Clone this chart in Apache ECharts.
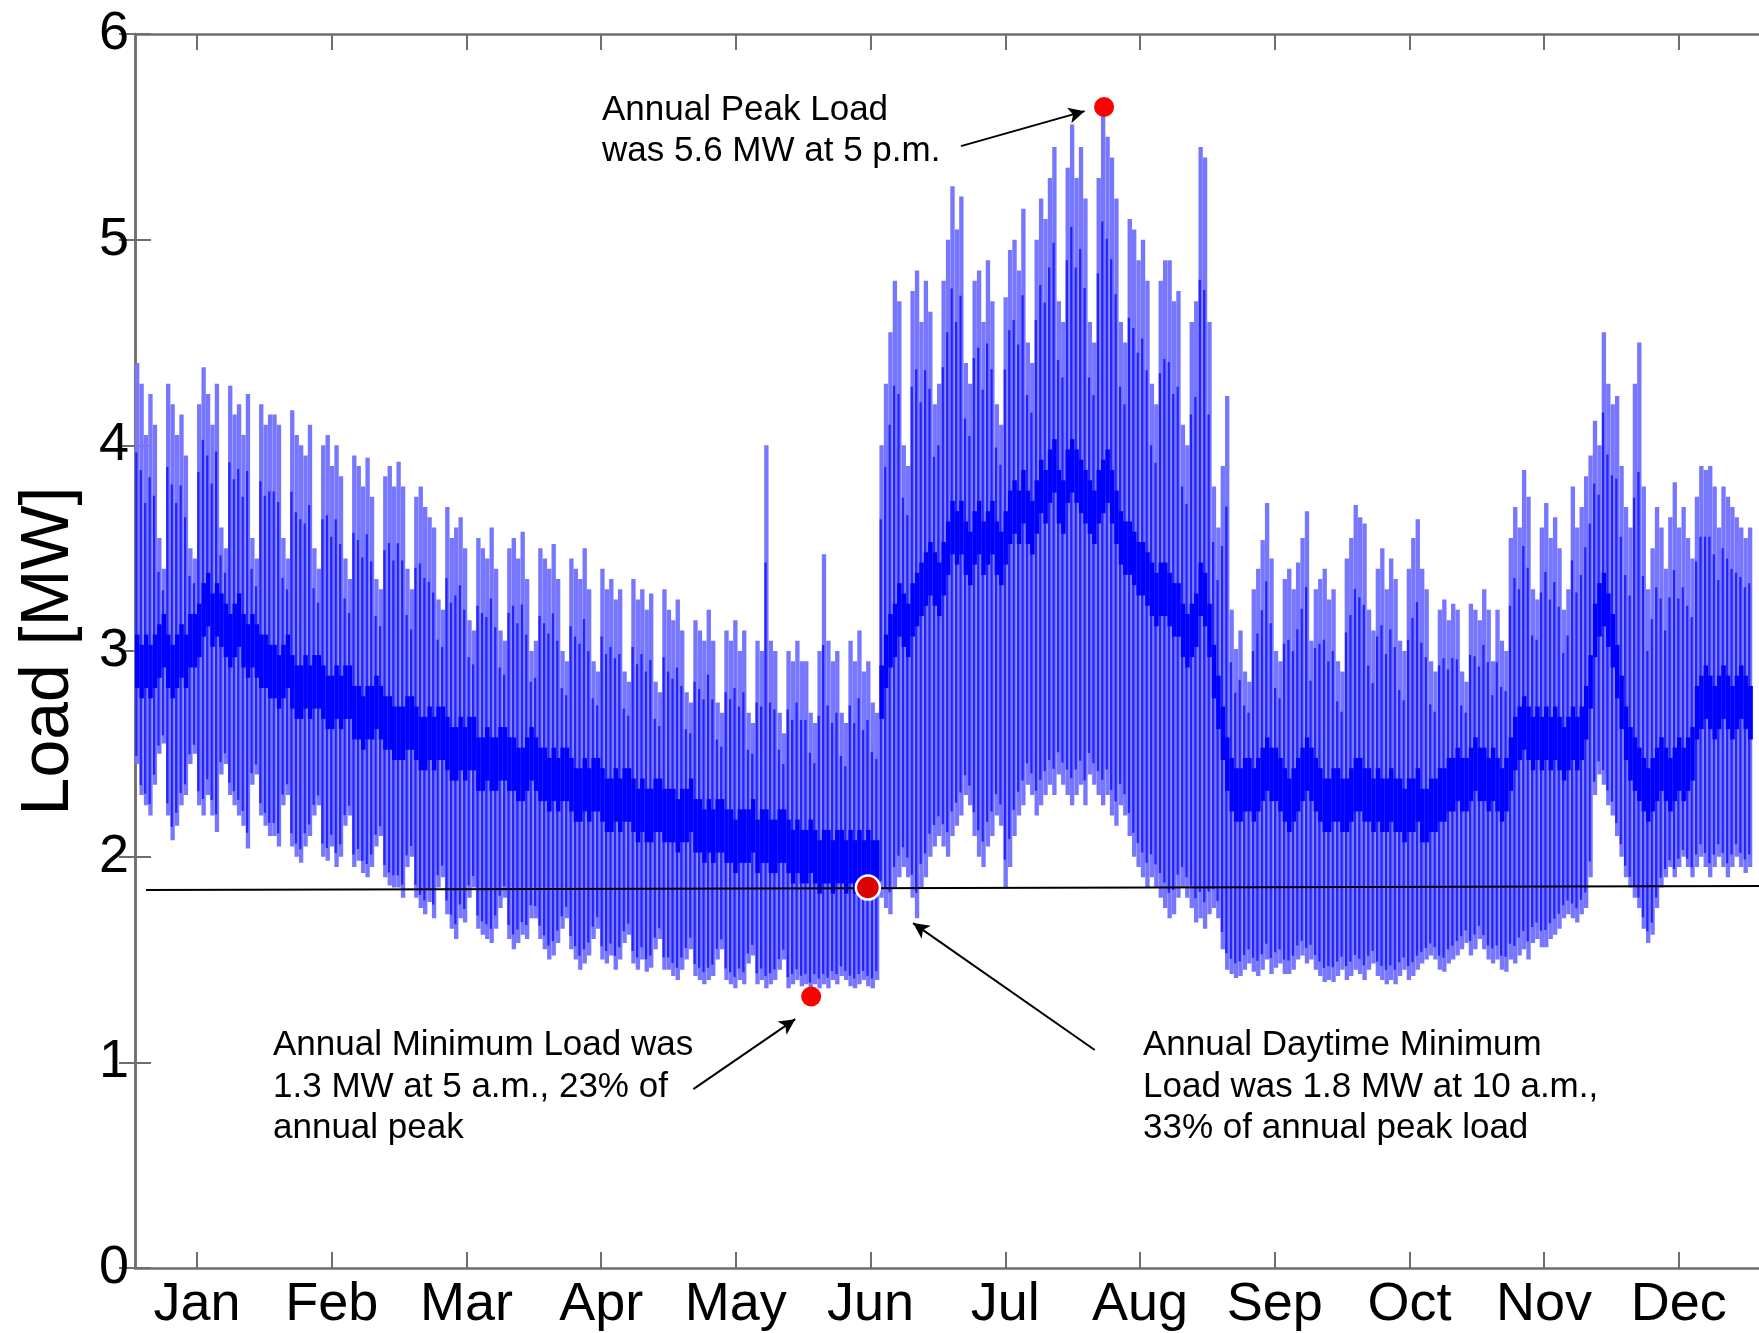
<!DOCTYPE html>
<html>
<head>
<meta charset="utf-8">
<title>Annual hourly load</title>
<script src="https://cdn.jsdelivr.net/npm/echarts@6/dist/echarts.min.js"></script>
<style>
  html, body { margin: 0; padding: 0; background: #fff; }
  #chart { width: 1759px; height: 1333px; }
</style>
</head>
<body>
<div id="chart"></div>
<script>
var monthNames = ['Jan', 'Feb', 'Mar', 'Apr', 'May', 'Jun', 'Jul', 'Aug', 'Sep', 'Oct', 'Nov', 'Dec'];
var monthTickDays = [14, 44.4, 74.8, 105.2, 135.6, 166, 196.4, 226.8, 257.2, 287.6, 318, 348.4];

// daily maximum load, MW (one row per month)
var dailyMax = [
  4.40,4.30,4.05,4.25,4.10,3.55,3.40,4.30,4.20,4.05,4.15,3.95,3.50,3.45,4.20,4.38,4.25,4.10,4.30,3.60,3.50,4.29,4.15,4.20,4.05,4.25,3.55,3.45,4.20,4.10,4.15,
  4.15,4.10,3.55,3.45,4.17,4.05,4.00,3.95,4.10,3.50,3.40,4.00,4.05,3.90,4.00,3.85,3.45,3.35,3.95,3.90,3.80,3.94,3.75,3.35,3.30,3.85,3.90,3.80,
  3.92,3.80,3.40,3.30,3.75,3.80,3.70,3.65,3.60,3.25,3.20,3.70,3.55,3.60,3.65,3.50,3.15,3.10,3.55,3.50,3.45,3.60,3.40,3.10,3.05,3.50,3.55,3.45,3.58,3.35,3.00,
  3.05,3.50,3.45,3.40,3.52,3.35,3.00,2.95,3.45,3.40,3.35,3.50,3.30,2.95,2.90,3.40,3.30,3.35,3.25,3.30,2.90,2.85,3.35,3.25,3.30,3.20,3.28,2.85,2.80,3.30,
  3.20,3.15,3.25,3.10,2.80,2.75,3.15,3.10,3.05,3.20,3.05,2.75,2.70,3.10,3.05,3.15,3.00,3.10,2.70,2.65,3.05,3.00,4.00,3.05,3.00,2.70,2.60,3.00,2.95,3.05,2.95,
  2.95,2.70,2.65,3.00,3.47,3.05,2.95,3.00,2.70,2.65,3.05,2.95,3.10,2.90,2.95,2.75,2.70,4.00,4.30,4.55,4.80,4.70,4.00,3.90,4.75,4.85,4.60,4.80,4.65,4.20,
  4.30,4.80,5.00,5.26,5.05,5.21,4.40,4.30,4.80,4.85,4.60,4.90,4.70,4.20,4.10,4.72,4.95,5.00,4.85,5.15,4.50,4.40,5.00,5.20,5.10,5.30,5.45,4.70,4.60,5.35,5.56,
  5.30,5.45,5.20,4.60,4.50,5.30,5.64,5.50,5.40,5.20,4.60,4.50,5.10,5.05,4.90,5.00,4.80,4.30,4.20,4.80,4.90,4.90,4.70,4.75,4.10,4.00,4.60,4.70,5.45,5.40,4.60,
  3.80,3.60,3.90,4.24,3.20,3.01,3.10,2.90,2.85,3.30,3.40,3.54,3.72,3.45,3.00,2.95,3.35,3.40,3.30,3.43,3.55,3.68,3.05,3.30,3.35,3.40,3.25,3.30,2.95,2.90,
  3.45,3.55,3.71,3.65,3.62,3.20,3.10,3.40,3.50,3.30,3.45,3.35,3.05,3.00,3.40,3.55,3.64,3.40,3.30,2.95,2.90,3.20,3.25,3.15,3.23,3.20,2.90,2.85,3.23,3.20,3.15,
  3.30,3.20,2.95,3.20,3.05,3.00,3.55,3.70,3.60,3.88,3.75,3.30,3.25,3.60,3.72,3.55,3.65,3.50,3.20,3.30,3.80,3.60,3.70,3.85,3.95,4.12,4.00,4.55,4.30,4.20,
  4.24,3.90,3.70,3.60,4.30,4.50,3.80,3.30,3.50,3.70,3.60,3.40,3.65,3.82,3.60,3.70,3.55,3.45,3.75,3.90,3.88,3.90,3.80,3.60,3.80,3.75,3.70,3.65,3.60,3.55,3.60
];

// daily minimum load, MW
var dailyMin = [
  2.45,2.30,2.25,2.20,2.35,2.50,2.55,2.20,2.08,2.15,2.25,2.30,2.45,2.50,2.25,2.20,2.30,2.20,2.12,2.40,2.45,2.30,2.25,2.20,2.15,2.04,2.35,2.40,2.20,2.15,2.10,
  2.10,2.05,2.25,2.30,2.05,2.00,1.97,2.05,2.10,2.20,2.25,2.00,1.98,2.05,1.95,2.00,2.15,2.20,1.95,1.98,1.92,1.90,1.95,2.05,2.10,1.90,1.86,1.85,
  1.85,1.80,1.95,2.00,1.80,1.75,1.72,1.78,1.70,1.85,1.90,1.72,1.65,1.60,1.70,1.68,1.80,1.85,1.65,1.62,1.60,1.58,1.65,1.75,1.80,1.60,1.55,1.58,1.62,1.60,1.70,
  1.70,1.60,1.55,1.50,1.52,1.58,1.65,1.70,1.55,1.50,1.45,1.48,1.52,1.60,1.65,1.50,1.48,1.52,1.45,1.50,1.58,1.62,1.48,1.45,1.50,1.44,1.46,1.55,1.60,1.45,
  1.45,1.42,1.40,1.45,1.50,1.55,1.42,1.40,1.38,1.40,1.42,1.50,1.55,1.40,1.38,1.36,1.40,1.38,1.48,1.52,1.38,1.40,1.36,1.38,1.40,1.45,1.50,1.36,1.38,1.40,1.37,
  1.38,1.33,1.38,1.36,1.38,1.36,1.40,1.38,1.42,1.40,1.37,1.36,1.38,1.40,1.37,1.36,1.40,1.80,1.75,1.72,1.85,1.90,1.95,1.90,1.80,1.70,1.85,1.90,2.00,2.05,
  2.10,2.05,2.00,2.10,2.15,2.20,2.30,2.25,2.10,2.00,1.95,2.05,2.10,2.20,2.15,1.85,1.95,2.10,2.20,2.25,2.35,2.30,2.20,2.25,2.30,2.35,2.30,2.40,2.35,2.30,2.25,
  2.30,2.35,2.25,2.40,2.35,2.30,2.25,2.30,2.20,2.15,2.25,2.20,2.10,2.00,1.95,1.90,1.85,1.90,1.85,1.80,1.75,1.70,1.72,1.80,1.85,1.80,1.75,1.68,1.70,1.65,1.72,
  1.75,1.70,1.55,1.45,1.43,1.41,1.42,1.45,1.48,1.44,1.42,1.45,1.50,1.43,1.46,1.48,1.43,1.43,1.45,1.50,1.52,1.48,1.50,1.45,1.42,1.39,1.40,1.39,1.42,1.45,
  1.40,1.42,1.45,1.43,1.40,1.45,1.48,1.42,1.40,1.38,1.40,1.38,1.42,1.45,1.40,1.42,1.45,1.48,1.50,1.52,1.50,1.45,1.44,1.48,1.50,1.52,1.55,1.58,1.52,1.55,1.60,
  1.55,1.50,1.48,1.50,1.45,1.44,1.50,1.48,1.52,1.55,1.50,1.58,1.60,1.56,1.56,1.60,1.62,1.65,1.70,1.72,1.70,1.68,1.72,1.75,1.90,2.30,2.40,2.35,2.25,2.20,
  2.10,2.00,1.90,1.85,1.80,1.75,1.65,1.58,1.62,1.75,1.85,1.90,1.95,1.90,1.95,2.00,1.95,1.90,1.95,2.00,1.95,1.90,1.95,2.00,1.95,1.90,1.95,2.00,1.95,1.92,1.95
];

// typical night-time load (dense core of the trace), MW
var nightBase = [
  2.95,2.90,2.95,2.90,2.95,3.00,3.05,2.95,2.90,2.95,3.00,2.95,3.05,3.05,3.10,3.20,3.25,3.15,3.20,3.15,3.10,3.05,3.10,3.15,3.05,3.00,3.05,3.00,2.95,2.95,2.90,
  2.90,2.85,2.90,2.95,2.85,2.80,2.80,2.85,2.80,2.85,2.85,2.80,2.75,2.75,2.80,2.75,2.80,2.80,2.70,2.70,2.65,2.70,2.70,2.75,2.70,2.65,2.65,2.60,
  2.60,2.60,2.65,2.65,2.60,2.55,2.55,2.60,2.55,2.60,2.60,2.55,2.50,2.50,2.55,2.50,2.55,2.55,2.45,2.45,2.50,2.45,2.45,2.50,2.50,2.45,2.45,2.40,2.40,2.45,2.50,
  2.45,2.40,2.40,2.35,2.40,2.35,2.40,2.40,2.35,2.30,2.30,2.35,2.30,2.35,2.35,2.30,2.25,2.25,2.30,2.25,2.30,2.30,2.25,2.20,2.25,2.20,2.20,2.25,2.25,2.20,
  2.20,2.20,2.15,2.20,2.20,2.25,2.15,2.15,2.10,2.15,2.10,2.15,2.15,2.10,2.10,2.05,2.10,2.10,2.10,2.15,2.05,2.10,2.10,2.05,2.05,2.10,2.10,2.05,2.00,2.05,2.00,
  2.00,2.05,2.00,1.95,2.00,2.00,1.95,2.00,2.00,1.95,2.00,1.95,2.00,1.95,2.00,1.95,1.95,2.80,2.95,3.05,3.10,3.20,3.15,3.10,3.20,3.25,3.30,3.35,3.40,3.35,
  3.30,3.40,3.50,3.60,3.55,3.60,3.50,3.45,3.55,3.60,3.50,3.55,3.60,3.50,3.45,3.55,3.65,3.70,3.65,3.75,3.65,3.60,3.70,3.80,3.75,3.85,3.90,3.75,3.70,3.85,3.90,
  3.85,3.80,3.75,3.70,3.65,3.75,3.80,3.85,3.75,3.65,3.55,3.50,3.50,3.45,3.40,3.40,3.35,3.30,3.25,3.30,3.30,3.25,3.20,3.20,3.10,3.05,3.10,3.15,3.30,3.25,3.10,
  2.90,2.75,2.60,2.45,2.35,2.30,2.30,2.35,2.35,2.30,2.35,2.40,2.45,2.40,2.40,2.35,2.30,2.25,2.30,2.35,2.40,2.45,2.40,2.35,2.30,2.25,2.25,2.30,2.30,2.25,
  2.25,2.30,2.35,2.35,2.30,2.30,2.25,2.30,2.25,2.25,2.30,2.25,2.25,2.20,2.25,2.25,2.30,2.20,2.20,2.25,2.25,2.30,2.30,2.35,2.35,2.40,2.35,2.35,2.40,2.45,2.40,
  2.40,2.35,2.40,2.35,2.30,2.35,2.45,2.55,2.60,2.65,2.60,2.55,2.60,2.55,2.60,2.55,2.60,2.55,2.50,2.55,2.60,2.55,2.60,2.70,2.85,3.10,3.20,3.25,3.15,3.05,
  2.90,2.75,2.60,2.50,2.45,2.40,2.35,2.30,2.35,2.40,2.45,2.40,2.35,2.40,2.45,2.40,2.45,2.50,2.70,2.75,2.80,2.75,2.70,2.75,2.80,2.75,2.70,2.75,2.80,2.75,2.70
];

// highlighted points [day, MW]
var peakPoint = [218.7, 5.645];
var minPoint = [152.6, 1.32];
var daytimeMinPoint = [165.4, 1.85];
var daytimeMinLine = [[2.5, 1.838], [366.5, 1.857]];

// annotation arrows [from, to] in [day, MW]
var peakArrow = [[186.4, 5.455], [214.3, 5.625]];
var minArrow = [[126.0, 0.870], [149.0, 1.210]];
var daytimeArrow = [[216.6, 1.060], [175.6, 1.677]];

var FONT = '"Liberation Sans", Arial, Helvetica, sans-serif';
var AXIS_GREY = '#6e6e6e';

var dayRows = dailyMax.map(function (hi, i) {
  return [i, dailyMin[i], nightBase[i], hi];
});

// one day = a light full-range stripe, a darker half-width stripe and the dense night core
function renderDay(params, api) {
  var d = api.value(0), lo = api.value(1), base = api.value(2), hi = api.value(3);
  var w = api.size([1, 0])[0];
  var x = api.coord([d, 0])[0];
  var yHi = api.coord([d, hi])[1];
  var yLo = api.coord([d, lo])[1];
  var yDarkTop = api.coord([d, base + 0.7 * (hi - base)])[1];
  var yDarkBot = api.coord([d, lo + 0.08 * (base - lo)])[1];
  var yCoreTop = api.coord([d, base + 0.13])[1];
  var yCoreBot = api.coord([d, base - 0.13])[1];
  return {
    type: 'group',
    children: [
      { type: 'rect', shape: { x: x, y: yHi, width: w * 0.98, height: yLo - yHi }, style: { fill: '#7676ff' } },
      { type: 'rect', shape: { x: x + 0.05 * w, y: yDarkTop, width: 0.5 * w, height: yDarkBot - yDarkTop }, style: { fill: '#2222ff' } },
      { type: 'rect', shape: { x: x, y: yCoreTop, width: w + 0.5, height: yCoreBot - yCoreTop }, style: { fill: '#0000ff' } }
    ]
  };
}

function arrowLine(a) {
  return [{ coord: a[0], symbol: 'none' }, { coord: a[1], symbol: 'arrow' }];
}

function monthLabel(v) {
  for (var k = 0; k < monthTickDays.length; k++) {
    if (Math.abs(monthTickDays[k] - v) < 0.01) return monthNames[k];
  }
  return '';
}

var xCommon = {
  type: 'value',
  min: 0,
  max: 366.5,
  axisLine: { show: true, onZero: false, lineStyle: { color: AXIS_GREY, width: 2.5 } },
  axisTick: { show: true, inside: true, length: 16, customValues: monthTickDays, lineStyle: { color: AXIS_GREY, width: 2 } },
  splitLine: { show: false }
};

var yCommon = {
  type: 'value',
  min: 0,
  max: 6,
  interval: 1,
  axisLine: { show: true, lineStyle: { color: AXIS_GREY, width: 2.5 } },
  axisTick: { show: true, inside: true, length: 16, lineStyle: { color: AXIS_GREY, width: 2 } },
  splitLine: { show: false }
};

var myChart = echarts.init(document.getElementById('chart'));

var option = {
  backgroundColor: '#fff',
  animation: false,
  grid: { left: 135, right: -2, top: 34, bottom: 65 },
  xAxis: [
    Object.assign({}, xCommon, {
      position: 'bottom',
      axisLabel: { customValues: monthTickDays, formatter: monthLabel, fontSize: 54, fontFamily: FONT, color: '#000', margin: 10 }
    }),
    Object.assign({}, xCommon, { position: 'top', axisLabel: { show: false } })
  ],
  yAxis: [
    Object.assign({}, yCommon, {
      position: 'left',
      name: 'Load [MW]',
      nameLocation: 'middle',
      nameGap: 52,
      nameRotate: 90,
      nameTextStyle: { fontSize: 68, fontFamily: FONT, color: '#000' },
      axisLabel: { fontSize: 54, fontFamily: FONT, color: '#000', margin: 6 }
    }),
    Object.assign({}, yCommon, { position: 'right', axisLabel: { show: false } })
  ],
  series: [
    {
      type: 'custom',
      renderItem: renderDay,
      data: dayRows,
      clip: true,
      silent: true
    },
    {
      type: 'line',
      data: daytimeMinLine,
      symbol: 'none',
      lineStyle: { color: '#000', width: 2 },
      silent: true,
      z: 3
    },
    {
      type: 'scatter',
      data: [peakPoint, minPoint],
      symbolSize: 20,
      itemStyle: { color: '#ff0000', opacity: 1 },
      z: 4,
      markLine: {
        silent: true,
        symbolSize: [12, 16],
        label: { show: false },
        lineStyle: { color: '#000', width: 2, type: 'solid' },
        data: [arrowLine(peakArrow), arrowLine(minArrow), arrowLine(daytimeArrow)]
      }
    },
    {
      type: 'scatter',
      data: [daytimeMinPoint],
      symbolSize: 24,
      itemStyle: { color: '#dd0000', borderColor: '#fff', borderWidth: 2.5, opacity: 1 },
      z: 5
    }
  ],
  graphic: [
    {
      type: 'text', left: 602, top: 90,
      style: { text: 'Annual Peak Load\nwas 5.6 MW at 5 p.m.', fontSize: 35, fontFamily: FONT, lineHeight: 41, fill: '#000' }
    },
    {
      type: 'text', left: 273, top: 1025,
      style: { text: 'Annual Minimum Load was\n1.3 MW at 5 a.m., 23% of\nannual peak', fontSize: 35, fontFamily: FONT, lineHeight: 41.5, fill: '#000' }
    },
    {
      type: 'text', left: 1143, top: 1025,
      style: { text: 'Annual Daytime Minimum\nLoad was 1.8 MW at 10 a.m.,\n33% of annual peak load', fontSize: 35, fontFamily: FONT, lineHeight: 41.5, fill: '#000' }
    }
  ]
};

myChart.setOption(option);
</script>
</body>
</html>
